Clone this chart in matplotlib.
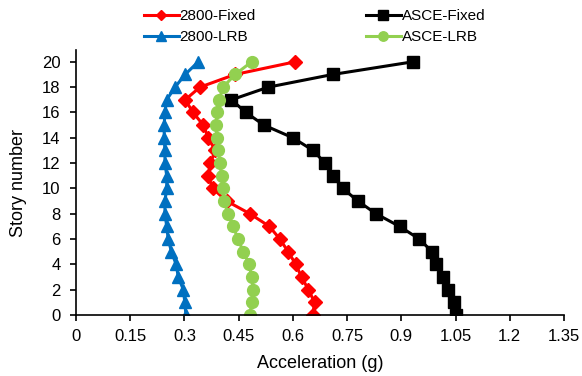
import matplotlib
matplotlib.use("Agg")
import matplotlib.pyplot as plt

stories = list(range(21))

fixed_2800 = [0.655, 0.660, 0.643, 0.624, 0.608, 0.587, 0.564, 0.535, 0.481, 0.417, 0.378,
              0.366, 0.372, 0.385, 0.366, 0.352, 0.324, 0.302, 0.343, 0.440, 0.606]
fixed_asce = [1.050, 1.045, 1.030, 1.015, 0.995, 0.985, 0.950, 0.895, 0.830, 0.780, 0.738,
              0.712, 0.689, 0.656, 0.600, 0.520, 0.470, 0.430, 0.532, 0.710, 0.932]
lrb_2800 = [0.304, 0.301, 0.297, 0.283, 0.277, 0.264, 0.255, 0.251, 0.246, 0.246, 0.251,
            0.251, 0.246, 0.246, 0.244, 0.244, 0.246, 0.251, 0.274, 0.302, 0.338]
lrb_asce = [0.481, 0.486, 0.490, 0.486, 0.479, 0.463, 0.448, 0.435, 0.421, 0.409, 0.406,
            0.403, 0.398, 0.394, 0.390, 0.387, 0.390, 0.396, 0.407, 0.440, 0.486]

x_ticks = [0, 0.15, 0.3, 0.45, 0.6, 0.75, 0.9, 1.05, 1.2, 1.35]
x_labels = ["0", "0.15", "0.3", "0.45", "0.6", "0.75", "0.9", "1.05", "1.2", "1.35"]
y_ticks = list(range(0, 21, 2))

plt.rcParams["font.family"] = ["Liberation Sans", "DejaVu Sans"]

fig = plt.figure(figsize=(5.82, 3.76), dpi=100)
ax = fig.add_axes([0.1306, 0.1622, 0.8384, 0.7037])

lw = 2.2
l1, = ax.plot(fixed_2800, stories, color="#FF0000", lw=lw, marker="D", ms=7, label="2800-Fixed")
l2, = ax.plot(fixed_asce, stories, color="#000000", lw=lw, marker="s", ms=8.3, label="ASCE-Fixed")
l3, = ax.plot(lrb_2800, stories, color="#0070C0", lw=lw, marker="^", ms=8.5, label="2800-LRB")
l4, = ax.plot(lrb_asce, stories, color="#92D050", lw=lw, marker="o", ms=8.5, label="ASCE-LRB")

ax.set_xlim(0, 1.35)
ax.set_ylim(0, 20.9)
ax.set_xticks(x_ticks)
ax.set_xticklabels(x_labels)
ax.set_yticks(y_ticks)
ax.spines["top"].set_visible(False)
ax.spines["right"].set_visible(False)
for s in ("left", "bottom"):
    ax.spines[s].set_linewidth(1.2)
ax.tick_params(axis="x", direction="out", length=4, width=1.2, labelsize=12, pad=6)
ax.tick_params(axis="y", direction="out", length=4, width=1.2, labelsize=12, pad=7)
ax.set_xlabel("Acceleration (g)", fontsize=13, labelpad=8)
ax.set_ylabel("Story number", fontsize=13, labelpad=11)

fig.legend(handles=[l1, l3, l2, l4], ncol=2, loc="upper left", bbox_to_anchor=(0.223, 1.012),
           frameon=False, fontsize=11, handlelength=2.3, handletextpad=0.05,
           columnspacing=7.2, labelspacing=0.45, markerscale=0.8)

fig.savefig("out.png", dpi=100)
